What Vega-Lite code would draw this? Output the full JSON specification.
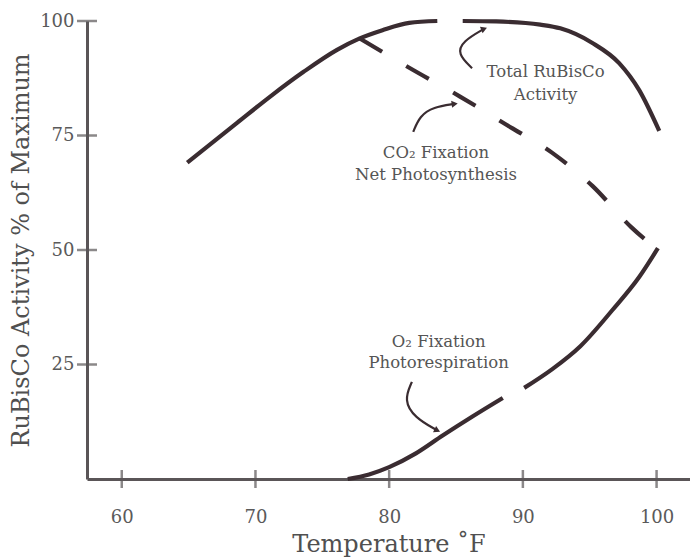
{
  "$schema": "https://vega.github.io/schema/vega-lite/v6.json",
  "width": 603,
  "height": 458,
  "autosize": "none",
  "padding": {"left": 87, "top": 21, "right": 0, "bottom": 81},
  "background": "white",
  "config": {
    "view": {"stroke": null},
    "font": "DejaVu Serif",
    "axis": {
      "domainColor": "#5a5557",
      "domainWidth": 3,
      "ticks": false,
      "grid": false,
      "labelFont": "DejaVu Serif",
      "labelColor": "#5a5a5a",
      "labelFontSize": 18,
      "titleFont": "DejaVu Serif",
      "titleColor": "#505050",
      "titleFontSize": 24,
      "titleFontWeight": "normal"
    }
  },
  "datasets": {
    "curves": [
      {"curve": "total", "seg": "a", "t": 64.9, "v": 69.1},
      {"curve": "total", "seg": "a", "t": 68.6, "v": 77.7},
      {"curve": "total", "seg": "a", "t": 71.1, "v": 83.5},
      {"curve": "total", "seg": "a", "t": 73.6, "v": 88.9},
      {"curve": "total", "seg": "a", "t": 76.1, "v": 93.7},
      {"curve": "total", "seg": "a", "t": 77.8, "v": 96.2},
      {"curve": "total", "seg": "a", "t": 79.5, "v": 98.0},
      {"curve": "total", "seg": "a", "t": 81.5, "v": 99.6},
      {"curve": "total", "seg": "a", "t": 83.6, "v": 100},
      {"curve": "total", "seg": "b", "t": 85.5, "v": 100},
      {"curve": "total", "seg": "b", "t": 88.0, "v": 99.9},
      {"curve": "total", "seg": "b", "t": 91.3, "v": 99.2},
      {"curve": "total", "seg": "b", "t": 92.8, "v": 98.4},
      {"curve": "total", "seg": "b", "t": 95.2, "v": 95.2},
      {"curve": "total", "seg": "b", "t": 97.2, "v": 90.8},
      {"curve": "total", "seg": "b", "t": 98.7, "v": 84.9},
      {"curve": "total", "seg": "b", "t": 100.2, "v": 76.0},
      {"curve": "co2", "seg": "a", "t": 77.8, "v": 96.2},
      {"curve": "co2", "seg": "a", "t": 81.5, "v": 89.8},
      {"curve": "co2", "seg": "a", "t": 85.3, "v": 83.5},
      {"curve": "co2", "seg": "a", "t": 88.8, "v": 77.3},
      {"curve": "co2", "seg": "a", "t": 92.2, "v": 71.2},
      {"curve": "co2", "seg": "a", "t": 95.2, "v": 64.0},
      {"curve": "co2", "seg": "a", "t": 98.1, "v": 55.0},
      {"curve": "co2", "seg": "a", "t": 100.1, "v": 50.0},
      {"curve": "o2", "seg": "a", "t": 76.9, "v": 0.0},
      {"curve": "o2", "seg": "a", "t": 78.5, "v": 1.0},
      {"curve": "o2", "seg": "a", "t": 80.0, "v": 2.6},
      {"curve": "o2", "seg": "a", "t": 82.0, "v": 5.6},
      {"curve": "o2", "seg": "a", "t": 84.0, "v": 9.5},
      {"curve": "o2", "seg": "a", "t": 86.2, "v": 13.6},
      {"curve": "o2", "seg": "a", "t": 88.5, "v": 17.7},
      {"curve": "o2", "seg": "b", "t": 90.1, "v": 19.9},
      {"curve": "o2", "seg": "b", "t": 92.2, "v": 24.0},
      {"curve": "o2", "seg": "b", "t": 94.3, "v": 29.0},
      {"curve": "o2", "seg": "b", "t": 96.7, "v": 36.9},
      {"curve": "o2", "seg": "b", "t": 98.7, "v": 44.1},
      {"curve": "o2", "seg": "b", "t": 100.1, "v": 50.4}
    ],
    "arrows": [
      {"arrow": "total", "i": 1, "t": 86.2, "v": 89.7},
      {"arrow": "total", "i": 2, "t": 85.1, "v": 92.8},
      {"arrow": "total", "i": 3, "t": 85.5, "v": 95.6},
      {"arrow": "total", "i": 4, "t": 87.1, "v": 98.3},
      {"arrow": "co2", "i": 1, "t": 81.8, "v": 75.8},
      {"arrow": "co2", "i": 2, "t": 82.3, "v": 79.3},
      {"arrow": "co2", "i": 3, "t": 83.3, "v": 81.2},
      {"arrow": "co2", "i": 4, "t": 84.9, "v": 81.9},
      {"arrow": "o2", "i": 1, "t": 81.7, "v": 21.2},
      {"arrow": "o2", "i": 2, "t": 81.1, "v": 17.2},
      {"arrow": "o2", "i": 3, "t": 81.9, "v": 13.4},
      {"arrow": "o2", "i": 4, "t": 83.6, "v": 10.6}
    ],
    "labels": [
      {"t": 91.7, "v": 88.9, "text": "Total RuBisCo"},
      {"t": 91.7, "v": 83.8, "text": "Activity"},
      {"t": 83.5, "v": 71.2, "text": "CO₂ Fixation"},
      {"t": 83.5, "v": 66.4, "text": "Net Photosynthesis"},
      {"t": 83.7, "v": 29.9, "text": "O₂ Fixation"},
      {"t": 83.7, "v": 25.3, "text": "Photorespiration"}
    ],
    "ticks": [
      {"axis": "x", "value": 60},
      {"axis": "x", "value": 70},
      {"axis": "x", "value": 80},
      {"axis": "x", "value": 90},
      {"axis": "x", "value": 100},
      {"axis": "y", "value": 25},
      {"axis": "y", "value": 50},
      {"axis": "y", "value": 75},
      {"axis": "y", "value": 100}
    ]
  },
  "layer": [
    {
      "data": {"name": "curves"},
      "transform": [{"filter": "datum.curve === 'total'"}],
      "mark": {"type": "line", "interpolate": "monotone", "color": "#3a2c31", "strokeWidth": 4.2, "strokeCap": "butt"},
      "encoding": {
        "x": {"field": "t", "type": "quantitative", "scale": {"domain": [57.4, 102.5], "nice": false, "zero": false},
          "axis": {"values": [60, 70, 80, 90, 100], "labelPadding": 29, "title": "Temperature ˚F", "titlePadding": 6}},
        "y": {"field": "v", "type": "quantitative", "scale": {"domain": [0, 100], "nice": false, "zero": false},
          "axis": {"values": [25, 50, 75, 100], "labelPadding": 13, "title": "RuBisCo Activity % of Maximum", "titlePadding": 6}},
        "detail": {"field": "seg"}
      }
    },
    {
      "data": {"name": "curves"},
      "transform": [{"filter": "datum.curve === 'co2'"}],
      "mark": {"type": "line", "interpolate": "monotone", "color": "#3a2c31", "strokeWidth": 4.2, "strokeDash": [26, 28], "strokeCap": "butt"},
      "encoding": {
        "x": {"field": "t", "type": "quantitative"},
        "y": {"field": "v", "type": "quantitative"}
      }
    },
    {
      "data": {"name": "curves"},
      "transform": [{"filter": "datum.curve === 'o2'"}],
      "mark": {"type": "line", "interpolate": "monotone", "color": "#3a2c31", "strokeWidth": 4.2, "strokeCap": "butt"},
      "encoding": {
        "x": {"field": "t", "type": "quantitative"},
        "y": {"field": "v", "type": "quantitative"},
        "detail": {"field": "seg"}
      }
    },
    {
      "data": {"name": "ticks"},
      "transform": [{"filter": "datum.axis === 'y'"}],
      "mark": {"type": "tick", "orient": "horizontal", "color": "#5a5557", "size": 20, "thickness": 2.5},
      "encoding": {
        "x": {"datum": 57.4, "type": "quantitative"},
        "y": {"field": "value", "type": "quantitative"}
      }
    },
    {
      "data": {"name": "ticks"},
      "transform": [{"filter": "datum.axis === 'x'"}],
      "mark": {"type": "tick", "orient": "vertical", "color": "#5a5557", "size": 18, "thickness": 2.5},
      "encoding": {
        "x": {"field": "value", "type": "quantitative"},
        "y": {"datum": 0, "type": "quantitative"}
      }
    },
    {
      "data": {"name": "arrows"},
      "mark": {"type": "line", "interpolate": "basis", "color": "#3a2c31", "strokeWidth": 2.2},
      "encoding": {
        "x": {"field": "t", "type": "quantitative"},
        "y": {"field": "v", "type": "quantitative"},
        "detail": {"field": "arrow"},
        "order": {"field": "i"}
      }
    },
    {
      "data": {"name": "arrows"},
      "transform": [{"filter": "datum.arrow === 'total' && datum.i === 4"}],
      "mark": {"type": "point", "shape": "triangle-right", "filled": true, "color": "#3a2c31", "opacity": 1, "size": 50, "angle": 338},
      "encoding": {
        "x": {"field": "t", "type": "quantitative"},
        "y": {"field": "v", "type": "quantitative"}
      }
    },
    {
      "data": {"name": "arrows"},
      "transform": [{"filter": "datum.arrow === 'co2' && datum.i === 4"}],
      "mark": {"type": "point", "shape": "triangle-right", "filled": true, "color": "#3a2c31", "opacity": 1, "size": 50, "angle": 352},
      "encoding": {
        "x": {"field": "t", "type": "quantitative"},
        "y": {"field": "v", "type": "quantitative"}
      }
    },
    {
      "data": {"name": "arrows"},
      "transform": [{"filter": "datum.arrow === 'o2' && datum.i === 4"}],
      "mark": {"type": "point", "shape": "triangle-right", "filled": true, "color": "#3a2c31", "opacity": 1, "size": 50, "angle": 26},
      "encoding": {
        "x": {"field": "t", "type": "quantitative"},
        "y": {"field": "v", "type": "quantitative"}
      }
    },
    {
      "data": {"name": "labels"},
      "mark": {"type": "text", "font": "DejaVu Serif", "fontSize": 16.5, "color": "#555555", "align": "center", "baseline": "middle"},
      "encoding": {
        "x": {"field": "t", "type": "quantitative"},
        "y": {"field": "v", "type": "quantitative"},
        "text": {"field": "text"}
      }
    }
  ]
}
